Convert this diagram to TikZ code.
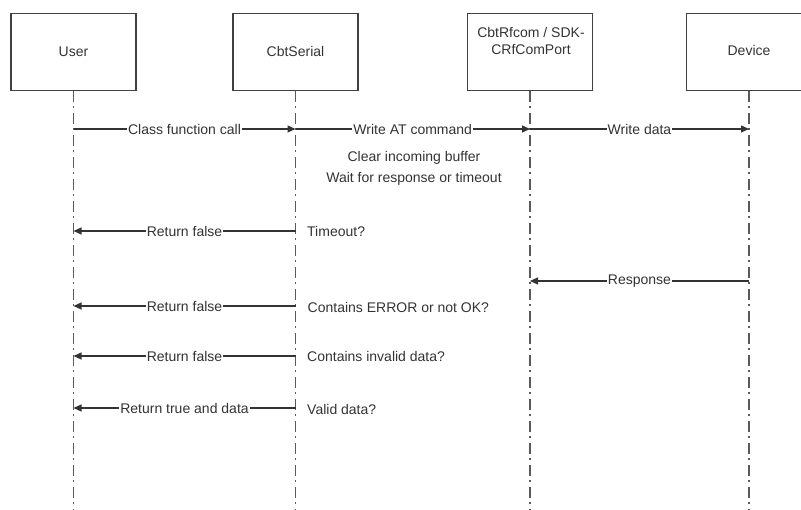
\documentclass[tikz,border=0pt]{standalone}
\usepackage{fontspec}
\setmainfont{Liberation Sans}
\usetikzlibrary{arrows.meta}
\definecolor{ink}{HTML}{333333}
\definecolor{frame}{HTML}{404040}
\definecolor{life}{HTML}{5A5A5A}
\tikzset{
  x=1pt, y=-1pt,
  every node/.style={font=\fontsize{14}{17}\selectfont, text=ink},
  actor/.style={draw=frame, line width=1.3pt, minimum width=125pt, minimum height=77pt, inner sep=0pt, anchor=north},
  lifeline/.style={draw=life, line width=1.3pt, dash pattern=on 11pt off 4pt on 1.5pt off 5.5pt},
  msg/.style={draw=ink, line width=1.2pt, -{Triangle[length=8pt,width=7pt]}},
  msglabel/.style={fill=white, inner sep=1pt},
  note/.style={anchor=west, inner sep=0pt},
}
\begin{document}
\begin{tikzpicture}
\useasboundingbox (0,0) rectangle (801,510);

% participants
\node[actor] (user)   at (73.5,13) {};
\node[actor] (serial) at (295.5,13) {};
\node[actor] (rfcom)  at (530,13) {};
\node[actor] (device) at (749,13) {};
\node at (73.5,52) {User};
\node at (295.5,52) {CbtSerial};
\node[align=center] at (531,41) {CbtRfcom / SDK-\\CRfComPort};
\node at (749,51) {Device};

% lifelines
\coordinate (uEnd) at (73.5,510);
\coordinate (sEnd) at (295.5,510);
\coordinate (rEnd) at (530,510);
\coordinate (dEnd) at (749,510);
\draw[lifeline] (user.south) -- (uEnd);
\draw[lifeline] (serial.south) -- (sEnd);
\draw[lifeline] (rfcom.south) -- (rEnd);
\draw[lifeline] (device.south) -- (dEnd);

% message anchor points on the lifelines
\foreach \n/\y in {1/129,2/231,3/281,4/306,5/356,6/408}{
  \coordinate (u\n) at (73.5,\y);
  \coordinate (s\n) at (295.5,\y);
  \coordinate (r\n) at (530,\y);
  \coordinate (d\n) at (749,\y);
}

% outgoing calls
\draw[msg] (u1) -- node[msglabel] {Class function call} (s1);
\draw[msg] (s1) -- node[msglabel] {Write AT command} (r1);
\draw[msg] (r1) -- node[msglabel] {Write data} (d1);

\node (clear) at (414,158) {Clear incoming buffer};
\node (wait)  at (414,179) {Wait for response or timeout};

% replies
\draw[msg] (s2) -- node[msglabel] {Return false} (u2);
\node[note] (t2) at (307,231) {Timeout?};

\draw[msg] (d3) -- node[msglabel] {Response} (r3);

\draw[msg] (s4) -- node[msglabel] {Return false} (u4);
\node[note] (t4) at (307.5,307) {Contains ERROR or not OK?};

\draw[msg] (s5) -- node[msglabel] {Return false} (u5);
\node[note] (t5) at (307,356) {Contains invalid data?};

\draw[msg] (s6) -- node[msglabel] {Return true and data} (u6);
\node[note] (t6) at (307,409) {Valid data?};
\end{tikzpicture}
\end{document}
